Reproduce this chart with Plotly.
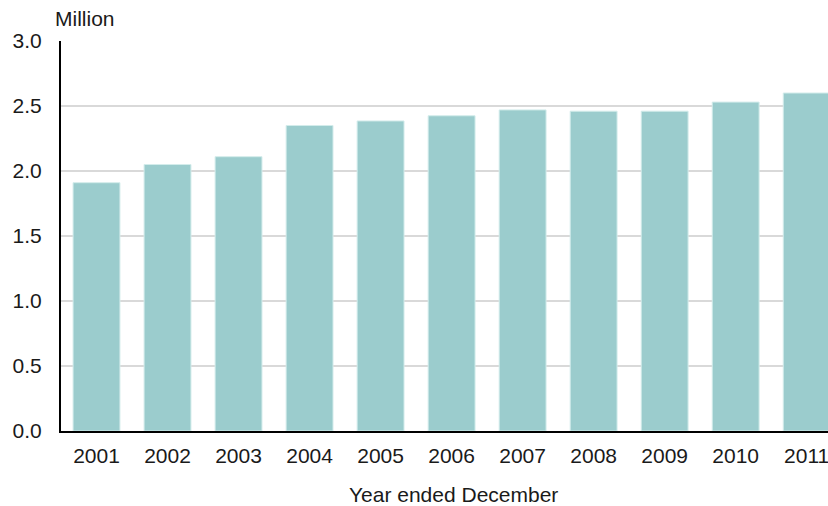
import plotly.graph_objects as go

years = ["2001", "2002", "2003", "2004", "2005", "2006", "2007", "2008", "2009", "2010", "2011"]
values = [1.91, 2.05, 2.11, 2.35, 2.385, 2.425, 2.47, 2.46, 2.46, 2.53, 2.60]
y_ticks = [0.0, 0.5, 1.0, 1.5, 2.0, 2.5, 3.0]
y_tick_labels = ["0.0", "0.5", "1.0", "1.5", "2.0", "2.5", "3.0"]

FONT = "Arial, Liberation Sans, sans-serif"

fig = go.Figure(go.Bar(
    x=years, y=values,
    marker=dict(color="#9BCCCD", line=dict(color="#D3ECEB", width=1)),
))

fig.update_layout(
    width=828, height=506,
    margin=dict(l=61, r=0, t=41, b=75),
    paper_bgcolor="white", plot_bgcolor="white",
    bargap=0.34,
    showlegend=False,
    font=dict(family=FONT, size=21, color="#1a1a1a"),
    xaxis=dict(
        type="category",
        range=[-0.5, 10.3],
        showline=True, linecolor="black", linewidth=2,
        showgrid=False, ticks="", ticklabelstandoff=5,
        tickfont=dict(size=21),
    ),
    yaxis=dict(
        range=[0, 3.0],
        tickvals=y_ticks, ticktext=y_tick_labels,
        showline=True, linecolor="black", linewidth=2,
        showgrid=True, gridcolor="#D9D9D9", gridwidth=1.5,
        zeroline=False, ticks="", ticklabelstandoff=13,
        tickfont=dict(size=21),
    ),
    annotations=[
        dict(text="Million", xref="paper", yref="paper", x=-0.011, y=1.0,
             xanchor="left", yanchor="middle", yshift=23, showarrow=False,
             font=dict(size=21, family=FONT, color="#1a1a1a")),
        dict(text="Year ended December", xref="paper", yref="paper", x=0.512, y=0,
             xanchor="center", yanchor="middle", yshift=-63, showarrow=False,
             font=dict(size=21, family=FONT, color="#1a1a1a")),
    ],
)

fig.write_html("out.html", config={"displayModeBar": False},
               post_script="document.body.style.margin='0';document.body.style.overflow='hidden';")
